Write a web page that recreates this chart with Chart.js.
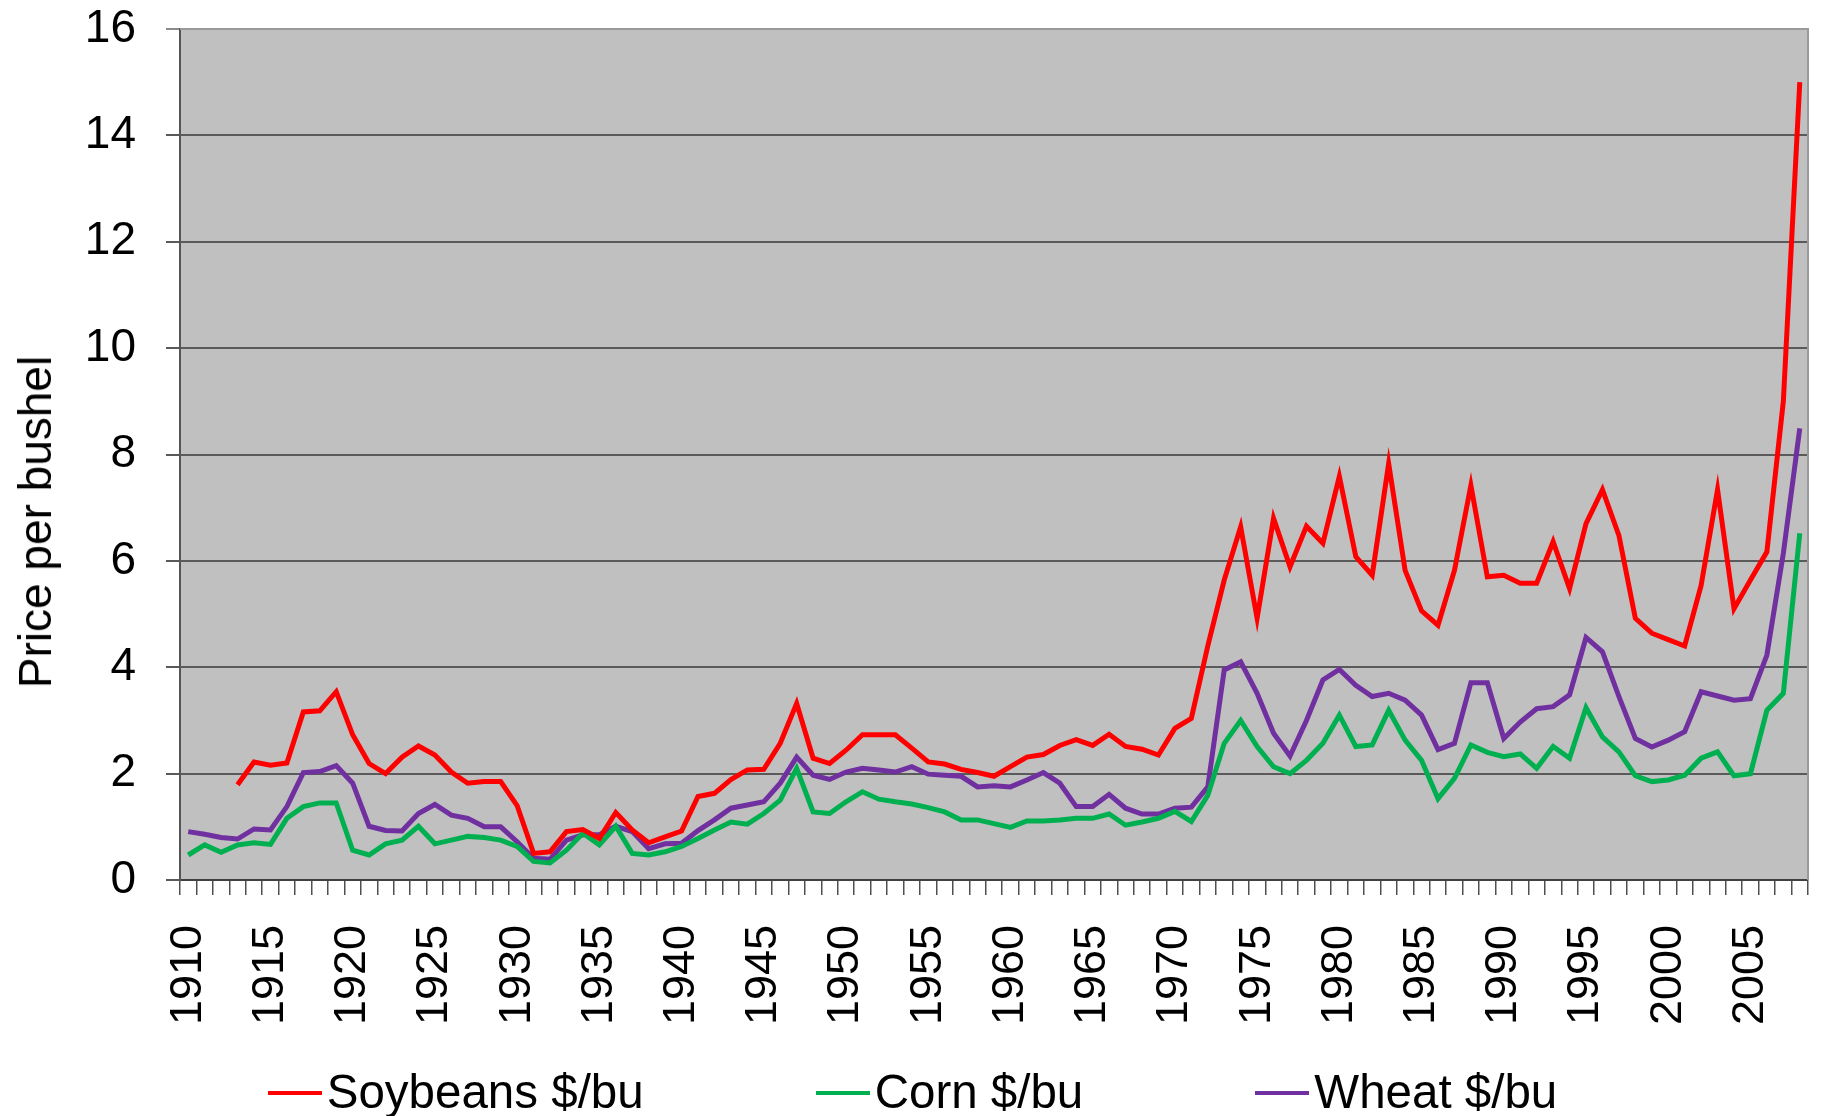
<!DOCTYPE html>
<html>
<head>
<meta charset="utf-8">
<title>Price per bushel</title>
<script src="https://cdn.jsdelivr.net/npm/chart.js@4/dist/chart.umd.min.js"></script>
<style>
  html, body { margin: 0; padding: 0; background: #fff; overflow: hidden; }
  #wrap { position: relative; width: 1825px; height: 1116px; }
  #ytitle {
    position: absolute; left: 35px; top: 522px;
    transform: translate(-50%, -50%) rotate(-90deg);
    font: 46px "Liberation Sans", Arial, sans-serif; color: #000; white-space: nowrap;
  }
  #legend {
    position: absolute; left: 0; top: 1063px; width: 1825px; height: 56px;
    display: flex; justify-content: center; align-items: center; gap: 172px;
    font: 47.5px "Liberation Sans", Arial, sans-serif; color: #000;
  }
  #legend .item { display: flex; align-items: center; white-space: nowrap; }
  #legend .mark { display: inline-block; width: 54px; height: 4.5px; margin-right: 5px; margin-top: 4px; }
</style>
</head>
<body>
<div id="wrap">
  <canvas id="chart" width="1825" height="1116"></canvas>
  <div id="ytitle">Price per bushel</div>
  <div id="legend"></div>
</div>
<script>
// Soybeans, corn and wheat, $/bu, 1910-2008
const years = Array.from({ length: 99 }, (_, i) => 1910 + i);

const soybeans = [
  null, null, null, 1.79, 2.22, 2.16, 2.20, 3.16, 3.18, 3.54,
  2.73, 2.19, 2.00, 2.31, 2.52, 2.35, 2.03, 1.82, 1.85, 1.85,
  1.40, 0.50, 0.53, 0.91, 0.95, 0.78, 1.27, 0.94, 0.70, 0.81,
  0.92, 1.57, 1.63, 1.89, 2.07, 2.08, 2.57, 3.32, 2.29, 2.19,
  2.44, 2.73, 2.73, 2.73, 2.48, 2.22, 2.18, 2.08, 2.02, 1.95,
  2.13, 2.31, 2.36, 2.53, 2.64, 2.53, 2.74, 2.51, 2.46, 2.35,
  2.85, 3.04, 4.40, 5.64, 6.64, 4.92, 6.80, 5.89, 6.65, 6.33,
  7.59, 6.08, 5.73, 7.83, 5.82, 5.06, 4.79, 5.82, 7.42, 5.70,
  5.73, 5.58, 5.58, 6.36, 5.48, 6.70, 7.34, 6.48, 4.92, 4.64,
  4.52, 4.40, 5.54, 7.34, 5.10, 5.64, 6.17, 9.00, 15.00
];

const corn = [
  0.47, 0.66, 0.52, 0.66, 0.70, 0.67, 1.16, 1.38, 1.45, 1.45,
  0.56, 0.47, 0.68, 0.75, 1.01, 0.68, 0.75, 0.82, 0.80, 0.75,
  0.63, 0.35, 0.32, 0.56, 0.88, 0.66, 1.01, 0.50, 0.47, 0.53,
  0.63, 0.78, 0.94, 1.09, 1.05, 1.25, 1.50, 2.10, 1.28, 1.25,
  1.47, 1.66, 1.52, 1.47, 1.43, 1.36, 1.28, 1.13, 1.13, 1.06,
  0.99, 1.11, 1.11, 1.13, 1.16, 1.16, 1.24, 1.03, 1.09, 1.16,
  1.29, 1.10, 1.59, 2.57, 3.00, 2.51, 2.13, 2.00, 2.25, 2.57,
  3.10, 2.51, 2.54, 3.19, 2.63, 2.25, 1.53, 1.91, 2.54, 2.40,
  2.32, 2.37, 2.10, 2.51, 2.29, 3.24, 2.69, 2.41, 1.96, 1.85,
  1.88, 1.97, 2.29, 2.41, 1.96, 2.00, 3.19, 3.51, 6.52
];

const wheat = [
  0.91, 0.86, 0.80, 0.77, 0.96, 0.94, 1.38, 2.02, 2.04, 2.15,
  1.82, 1.01, 0.93, 0.92, 1.25, 1.42, 1.22, 1.16, 1.00, 1.00,
  0.72, 0.41, 0.39, 0.75, 0.85, 0.85, 1.01, 0.91, 0.59, 0.68,
  0.69, 0.93, 1.13, 1.35, 1.41, 1.47, 1.82, 2.31, 1.97, 1.89,
  2.03, 2.10, 2.07, 2.03, 2.13, 1.99, 1.97, 1.95, 1.75, 1.77,
  1.75, 1.88, 2.02, 1.82, 1.38, 1.38, 1.61, 1.35, 1.24, 1.24,
  1.35, 1.37, 1.75, 3.95, 4.10, 3.51, 2.76, 2.33, 3.00, 3.76,
  3.96, 3.66, 3.45, 3.51, 3.38, 3.10, 2.45, 2.57, 3.71, 3.71,
  2.66, 2.97, 3.22, 3.26, 3.48, 4.56, 4.29, 3.45, 2.66, 2.50,
  2.63, 2.79, 3.54, 3.46, 3.38, 3.41, 4.23, 6.14, 8.49
];

const seriesNames = ["Soybeans $/bu", "Corn $/bu", "Wheat $/bu"];
const seriesColors = ["#ff0000", "#00b050", "#7030a0"];
const yTicks = [0, 2, 4, 6, 8, 10, 12, 14, 16];

const FONT = "'Liberation Sans', Arial, sans-serif";
Chart.defaults.font.family = FONT;
Chart.defaults.color = "#000";

// grey plot area + light frame on top/right
const plotBg = {
  id: "plotBg",
  beforeDraw(chart) {
    const { ctx, chartArea: a } = chart;
    ctx.save();
    ctx.fillStyle = "#c0c0c0";
    ctx.fillRect(a.left, a.top, a.right - a.left, a.bottom - a.top);
    ctx.restore();
  },
  afterDraw(chart) {
    const { ctx, chartArea: a } = chart;
    ctx.save();
    ctx.strokeStyle = "#9a9a9a";
    ctx.lineWidth = 2;
    ctx.beginPath();
    ctx.moveTo(a.left, a.top);
    ctx.lineTo(a.right, a.top);
    ctx.lineTo(a.right, a.bottom);
    ctx.stroke();
    ctx.restore();
  },
};

const datasets = [soybeans, corn, wheat].map((data, i) => ({
  label: seriesNames[i],
  data,
  borderColor: seriesColors[i],
  backgroundColor: seriesColors[i],
  borderWidth: 5,
  pointRadius: 0,
  tension: 0,
  spanGaps: false,
}));

const chart = new Chart(document.getElementById("chart"), {
  type: "line",
  data: { labels: years, datasets },
  options: {
    responsive: false,
    animation: false,
    devicePixelRatio: 1,
    layout: { padding: { top: 29, right: 17, left: 0, bottom: 0 } },
    plugins: { legend: { display: false }, title: { display: false }, tooltip: { enabled: false } },
    scales: {
      x: {
        type: "category",
        offset: true,
        grid: { offset: true, drawOnChartArea: false, drawTicks: true, tickLength: 15, color: "#505050", lineWidth: 1.5 },
        border: { color: "#404040", width: 2 },
        ticks: {
          autoSkip: false,
          minRotation: 90,
          maxRotation: 90,
          padding: 30,
          font: { size: 45 },
          callback: (v, i) => (years[i] % 5 === 0 ? String(years[i]) : ""),
        },
        afterFit(scale) {
          scale.height = 236;
          scale.paddingLeft = 0;
          scale.paddingRight = 0;
        },
      },
      y: {
        min: 0,
        max: 16,
        afterBuildTicks(scale) { scale.ticks = yTicks.map(v => ({ value: v })); },
        grid: {
          color: ctx => (ctx.tick && ctx.tick.value === 16 ? "#8c8c8c" : "#5a5a5a"),
          lineWidth: 2,
          tickLength: 14,
        },
        border: { color: "#555", width: 2 },
        ticks: { padding: 30, font: { size: 46 } },
        afterFit(scale) {
          scale.width = 180;
          scale.paddingTop = 0;
          scale.paddingBottom = 0;
        },
      },
    },
  },
  plugins: [plotBg],
});

// legend below the chart, built from the datasets
const legend = document.getElementById("legend");
chart.data.datasets.forEach(ds => {
  const item = document.createElement("div");
  item.className = "item";
  const mark = document.createElement("span");
  mark.className = "mark";
  mark.style.background = ds.borderColor;
  item.appendChild(mark);
  item.appendChild(document.createTextNode(ds.label));
  legend.appendChild(item);
});
</script>
</body>
</html>
